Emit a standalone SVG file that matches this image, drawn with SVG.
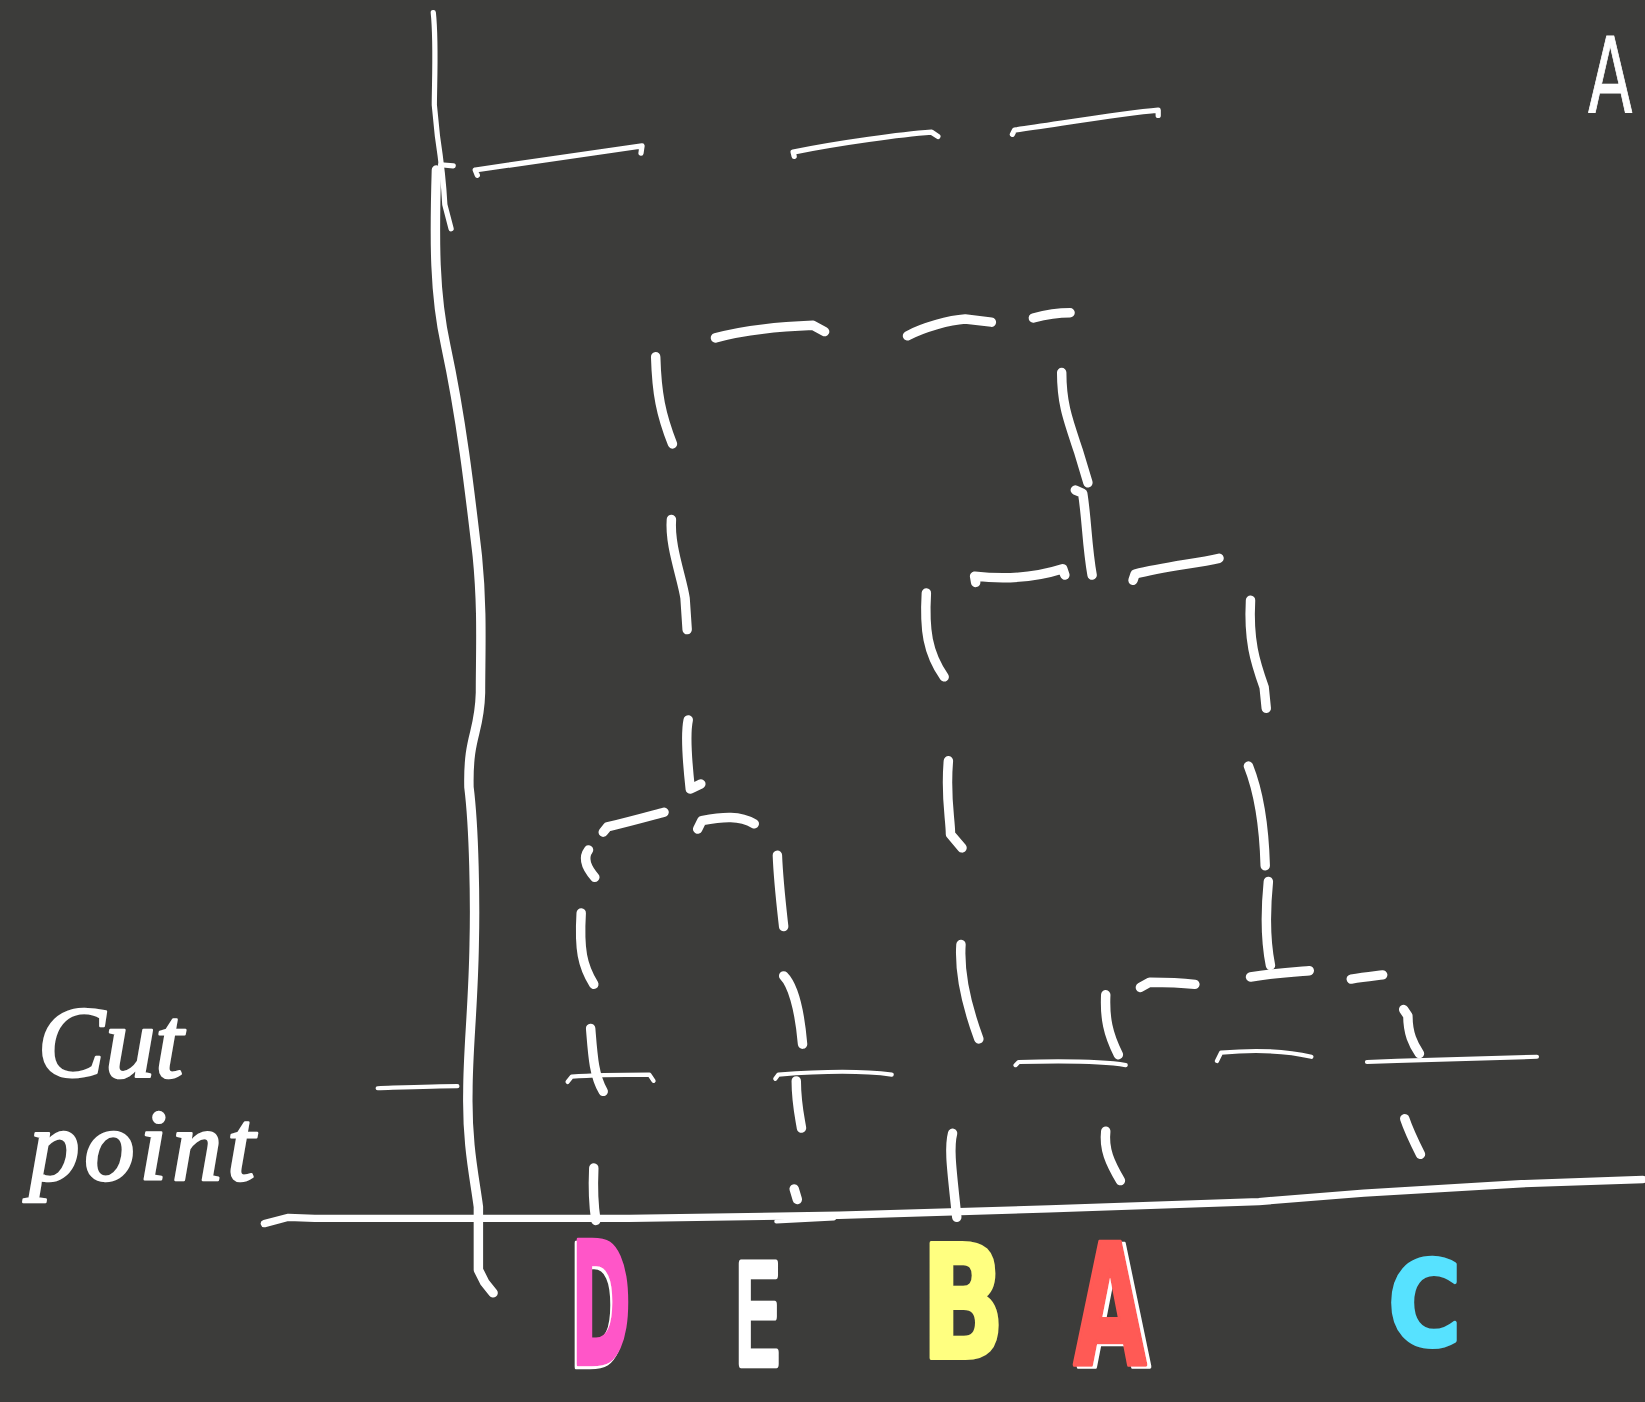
<svg xmlns="http://www.w3.org/2000/svg" width="1645" height="1402" viewBox="0 0 1645 1402">
<defs>
<style>
.s{fill:none;stroke:#ffffff;stroke-linecap:round;stroke-linejoin:round}
.ax{stroke-width:9}
.d{stroke-width:9}
.t{stroke-width:5}
.c{stroke-width:4}
.lab{font-family:"DejaVu Sans",sans-serif;font-weight:bold;stroke-linejoin:round}
.thin{font-family:"DejaVu Sans",sans-serif;font-weight:normal;stroke-linejoin:round}
.hand{font-family:"Liberation Serif",serif;font-style:italic;fill:#ffffff;stroke:#ffffff;stroke-width:2.5;stroke-linejoin:round}
</style>
<filter id="ws" x="-20%" y="-10%" width="140%" height="120%">
<feFlood flood-color="#ffffff"/>
<feComposite in2="SourceAlpha" operator="in"/>
<feOffset dx="6" dy="2" result="w"/>
<feMerge><feMergeNode in="w"/><feMergeNode in="SourceGraphic"/></feMerge>
</filter>
<filter id="wsl" x="-20%" y="-10%" width="140%" height="120%">
<feFlood flood-color="#ffffff"/>
<feComposite in2="SourceAlpha" operator="in"/>
<feOffset dx="-4" dy="3" result="w"/>
<feMerge><feMergeNode in="w"/><feMergeNode in="SourceGraphic"/></feMerge>
</filter>
</defs>
<rect width="1645" height="1402" fill="#3c3c3a"/>
<g transform="scale(1.0491,1.0494)">
<g id="axes">
<path class="s t" d="M413,12 C416,40 414,80 414,100 L417,130 C420,150 423,175 424,195 L430,218"/>
<path class="s t" d="M420,157 L432,158"/>
<path class="s ax" d="M416,162 C414,230 414,280 425,330 C440,400 448,470 455,530 C460,580 458,620 458,660 C457,700 446,700 447,750 C452,790 453,860 452,900 C451,960 446,1000 446,1040 C445,1090 452,1120 456,1150 L456,1210 L462,1222 L470,1232"/>
<path class="s" stroke-width="7" d="M252,1166 L275,1160 L300,1161 L450,1161 L600,1161 L800,1158 L1000,1152 L1200,1145 L1300,1137 L1450,1128 L1566,1124"/>
<path class="s c" d="M740,1164 L795,1161"/>
</g>
<g id="connectors">
<path class="s t" d="M455,167 L453,162 L612,139 L611,146"/>
<path class="s t" d="M757,149 L756,145 C800,136 860,128 888,126 L894,130"/>
<path class="s t" d="M965,128 L967,124 C1010,118 1070,108 1104,105 L1104,110"/>
<path class="s d" d="M625,340 C626,375 630,395 641,423"/>
<path class="s d" d="M640,495 C638,520 650,550 653,570 L655,600"/>
<path class="s d" d="M656,686 C653,700 655,725 658,752 L668,747"/>
<path class="s d" d="M682,322 C710,314 750,311 775,310 L786,316"/>
<path class="s d" d="M865,320 C880,312 905,305 920,304 L945,307"/>
<path class="s d" d="M985,303 C1000,299 1015,298 1020,298"/>
<path class="s d" d="M1012,355 C1012,385 1018,400 1028,430 L1037,460"/>
<path class="s d" d="M1025,467 L1032,470 C1036,495 1036,520 1041,548"/>
<path class="s d" d="M930,555 L929,549 C955,552 985,551 1013,542 L1015,548"/>
<path class="s d" d="M1080,553 L1082,547 C1110,540 1140,537 1162,532"/>
<path class="s d" d="M883,565 C881,600 884,622 900,645"/>
<path class="s d" d="M904,725 C901,760 906,780 906,795 L917,808"/>
<path class="s d" d="M916,900 C914,930 922,960 933,990"/>
<path class="s d" d="M908,1080 C904,1095 908,1120 912,1160"/>
<path class="s d" d="M1192,572 C1190,610 1196,630 1205,655 L1207,675"/>
<path class="s d" d="M1190,730 C1200,755 1205,790 1206,825"/>
<path class="s d" d="M1209,840 C1206,870 1207,900 1211,920"/>
<path class="s d" d="M1192,931 C1215,927 1235,926 1248,925"/>
<path class="s d" d="M1288,933 C1300,931 1310,930 1318,929"/>
<path class="s d" d="M1087,941 L1096,936 C1115,936 1130,937 1139,938"/>
<path class="s d" d="M1054,948 C1053,970 1056,985 1066,1005"/>
<path class="s d" d="M1054,1078 C1052,1095 1058,1108 1068,1125"/>
<path class="s d" d="M1338,962 L1342,968 C1342,985 1347,995 1353,1004"/>
<path class="s d" d="M1339,1066 C1343,1078 1348,1088 1354,1100"/>
<path class="s d" d="M575,793 L579,788 C600,783 618,778 633,774"/>
<path class="s d" d="M665,790 L669,782 C690,778 705,777 719,785"/>
<path class="s d" d="M561,810 C555,818 560,828 567,836"/>
<path class="s d" d="M554,870 C552,905 555,920 566,938"/>
<path class="s d" d="M563,980 C565,1005 566,1025 575,1040"/>
<path class="s d" d="M566,1113 C565,1135 566,1150 568,1163"/>
<path class="s d" d="M741,815 C742,840 745,865 747,883"/>
<path class="s d" d="M747,930 C755,938 762,960 765,995"/>
<path class="s d" d="M759,1030 C759,1050 762,1063 764,1075"/>
<path class="s d" d="M757,1133 L760,1143"/>
<path class="s c" d="M360,1037 C390,1036 415,1035 436,1035"/>
<path class="s c" d="M541,1031 L545,1026 C570,1024 600,1024 619,1024 L623,1030"/>
<path class="s c" d="M739,1028 L742,1024 C780,1021 820,1020 850,1024"/>
<path class="s c" d="M968,1015 L971,1012 C1010,1011 1050,1011 1073,1015"/>
<path class="s c" d="M1160,1011 L1164,1003 C1200,1000 1225,1001 1250,1007"/>
<path class="s c" d="M1303,1012 C1360,1010 1420,1008 1465,1007"/>
</g>
<g id="label-cut-point">
<text class="hand" x="36" y="1026" font-size="96">Cut</text>
<text class="hand" x="28" y="1124" font-size="96" textLength="215" lengthAdjust="spacing">point</text>
</g>
<g id="node-D">
<text class="lab" transform="translate(573,1300) scale(0.46,1.08)" text-anchor="middle" font-size="150" fill="#ff57c8" stroke="#ff57c8" stroke-width="4" filter="url(#wsl)">D</text>
</g>
<g id="node-E">
<text class="thin" transform="translate(722,1300) scale(0.55,1)" text-anchor="middle" font-size="130" fill="#ffffff" stroke="#ffffff" stroke-width="8">E</text>
</g>
<g id="node-B">
<text class="lab" transform="translate(918,1294) scale(0.7,1)" text-anchor="middle" font-size="150" fill="#ffff80" stroke="#ffff80" stroke-width="4">B</text>
</g>
<g id="node-A">
<text class="lab" transform="translate(1058,1300) scale(0.6,1.06)" text-anchor="middle" font-size="150" fill="#ff5a55" stroke="#ff5a55" stroke-width="4" filter="url(#ws)">A</text>
</g>
<g id="node-C">
<text class="lab" transform="translate(1358,1282) scale(0.85,1)" text-anchor="middle" font-size="112" fill="#57e2ff" stroke="#57e2ff" stroke-width="4">C</text>
</g>
<g id="label-A-top">
<text class="thin" transform="translate(1535,108) scale(0.62,1)" text-anchor="middle" font-size="100" fill="#ffffff" stroke="#ffffff" stroke-width="1">A</text>
</g>
</g>
</svg>
